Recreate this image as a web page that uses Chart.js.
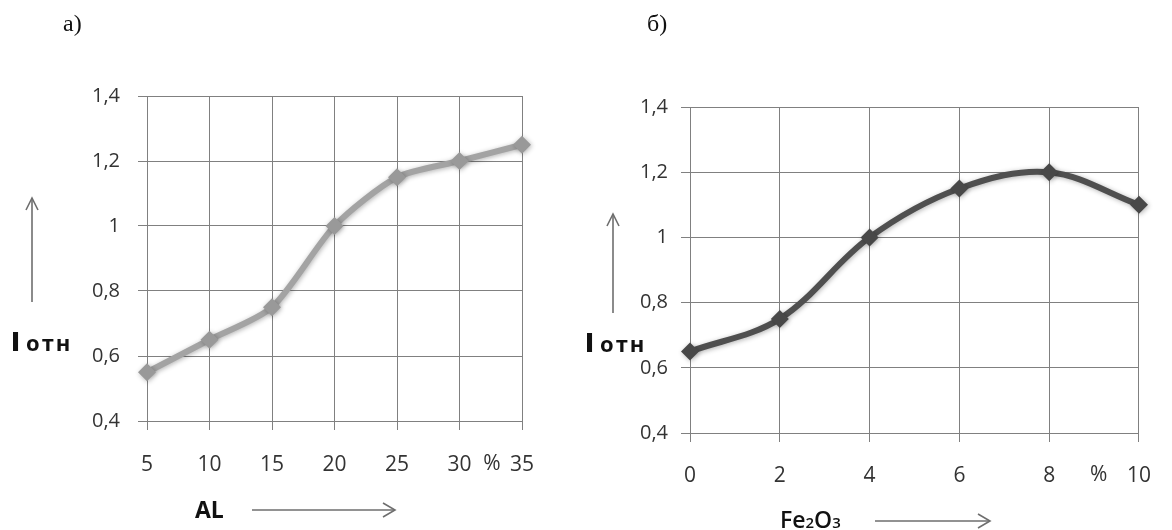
<!DOCTYPE html>
<html>
<head>
<meta charset="utf-8">
<script src="https://cdn.jsdelivr.net/npm/chart.js@4/dist/chart.umd.min.js"></script>
<style>
  html, body { margin:0; padding:0; background:#fff; }
  #wrap { position:relative; width:1172px; height:530px; overflow:hidden; background:#fff; }
  .cv { position:absolute; top:0; }
  .lbl { position:absolute; white-space:nowrap; color:#111; }
  .panel { font-family:"Liberation Serif","DejaVu Serif",serif; font-size:24px; }
  .ioth { font-family:"Open Sans",sans-serif; font-weight:700; font-size:22px; letter-spacing:2px; }
  .ioth b { font-size:26px; margin-right:4px; }
  .xname { font-family:"Open Sans",sans-serif; font-size:23px; }
  svg { position:absolute; left:0; top:0; }
</style>
</head>
<body>
<div id="wrap">
  <canvas id="c1" class="cv" width="580" height="530" style="left:0px"></canvas>
  <canvas id="c2" class="cv" width="592" height="530" style="left:580px"></canvas>

  <div class="lbl panel" style="left:63px; top:10px;">а)</div>
  <div class="lbl panel" style="left:647px; top:10px;">б)</div>

  <div class="lbl ioth" style="left:11px; top:323px;"><b>I</b>отн</div>
  <div class="lbl ioth" style="left:585px; top:324px;"><b>I</b>отн</div>

  <div class="lbl xname" style="left:195px; top:493px; font-weight:700;">AL</div>
  <div class="lbl xname" style="left:780px; top:503px; font-weight:600;">Fe<span style="font-size:15px">2</span>O<span style="font-size:15px">3</span></div>

  <svg width="1172" height="530">
    <g stroke="#6e6e6e" stroke-width="1.6" fill="none">
      <line x1="32" y1="198" x2="32" y2="302"/>
      <polyline points="26,210 32,198 38,210"/>
      <line x1="613" y1="214" x2="613" y2="313"/>
      <polyline points="607,226 613,214 619,226"/>
      <line x1="252" y1="510" x2="395" y2="510"/>
      <polyline points="383,503 395,510 383,517"/>
      <line x1="875" y1="521" x2="990" y2="521"/>
      <polyline points="978,514 990,521 978,528"/>
    </g>
  </svg>
</div>

<script>
// ---- data ----
const alCategories = [5, 10, 15, 20, 25, 30, 35];
const alValues     = [0.55, 0.65, 0.75, 1.0, 1.15, 1.2, 1.25];

const feCategories = [0, 2, 4, 6, 8, 10];
const feValues     = [0.65, 0.75, 1.0, 1.15, 1.2, 1.1];

const yTicks = [0.4, 0.6, 0.8, 1.0, 1.2, 1.4];
const percentLabel = "%";
const alPercentAt = 32.6;
const fePercentAt = 9.1;

// ---- helpers ----
function fmtComma(v) {
  return String(Number(v.toFixed(1))).replace('.', ',');
}

const shadowPlugin = {
  id: 'lineShadow',
  beforeDatasetsDraw(chart) {
    const ctx = chart.ctx;
    ctx.save();
    ctx.shadowColor = 'rgba(0,0,0,0.3)';
    ctx.shadowBlur = 5;
    ctx.shadowOffsetX = 1;
    ctx.shadowOffsetY = 1;
  },
  afterDatasetsDraw(chart) {
    chart.ctx.restore();
  }
};

const percentPlugin = {
  id: 'percentMark',
  afterDraw(chart, args, opts) {
    const xs = chart.scales.x;
    const ctx = chart.ctx;
    ctx.save();
    ctx.font = '21px "Open Sans", sans-serif';
    ctx.fillStyle = '#333333';
    ctx.textAlign = 'center';
    ctx.textBaseline = 'middle';
    ctx.fillText(percentLabel, xs.getPixelForValue(opts.at), opts.y);
    ctx.restore();
  }
};

function makeChart(id, xs, ys, cfg) {
  const pts = xs.map((x, i) => ({ x: x, y: ys[i] }));
  return new Chart(document.getElementById(id), {
    type: 'line',
    data: {
      datasets: [{
        data: pts,
        borderColor: cfg.color,
        backgroundColor: cfg.marker,
        borderWidth: 6,
        tension: cfg.tension,
        pointStyle: 'rectRot',
        pointRadius: 9,
        pointBorderWidth: 0,
        pointBackgroundColor: cfg.marker,
        clip: false
      }]
    },
    options: {
      responsive: false,
      animation: false,
      devicePixelRatio: 1,
      layout: { padding: cfg.padding },
      plugins: {
        legend: { display: false },
        tooltip: { enabled: false },
        percentMark: { at: cfg.percentAt, y: cfg.percentY }
      },
      scales: {
        x: {
          type: 'linear',
          min: xs[0], max: xs[xs.length - 1],
          afterBuildTicks: (s) => { s.ticks = xs.map(v => ({ value: v })); },
          afterFit: (s) => { s.height = cfg.xHeight; },
          grid: { color: '#808080', lineWidth: 1, tickLength: 9, drawTicks: true },
          border: { color: '#808080', width: 1 },
          ticks: {
            font: { family: 'Open Sans', size: 21 },
            color: '#333333',
            padding: cfg.xPad,
            maxRotation: 0,
            callback: (v) => String(v)
          }
        },
        y: {
          min: 0.4, max: 1.4,
          afterBuildTicks: (s) => { s.ticks = yTicks.map(v => ({ value: v })); },
          afterFit: (s) => { s.width = cfg.yWidth; },
          grid: { color: '#808080', lineWidth: 1, tickLength: 9, drawTicks: true },
          border: { color: '#808080', width: 1 },
          ticks: {
            font: { family: 'Open Sans', size: 20 },
            color: '#333333',
            padding: cfg.yPad,
            callback: (v) => fmtComma(v)
          }
        }
      }
    },
    plugins: [shadowPlugin, percentPlugin]
  });
}

makeChart('c1', alCategories, alValues, {
  color: '#a3a3a3', marker: '#999999', tension: 0.25,
  padding: { left: 0, top: 96, right: 58, bottom: 0 },
  yWidth: 147, xHeight: 109, xPad: 22, yPad: 18,
  percentAt: alPercentAt, percentY: 464
});

makeChart('c2', feCategories, feValues, {
  color: '#4f4f4f', marker: '#484848', tension: 0.35,
  padding: { left: 0, top: 107, right: 15, bottom: 0 },
  yWidth: 110, xHeight: 97, xPad: 21, yPad: 13,
  percentAt: fePercentAt, percentY: 475
});
</script>
</body>
</html>
